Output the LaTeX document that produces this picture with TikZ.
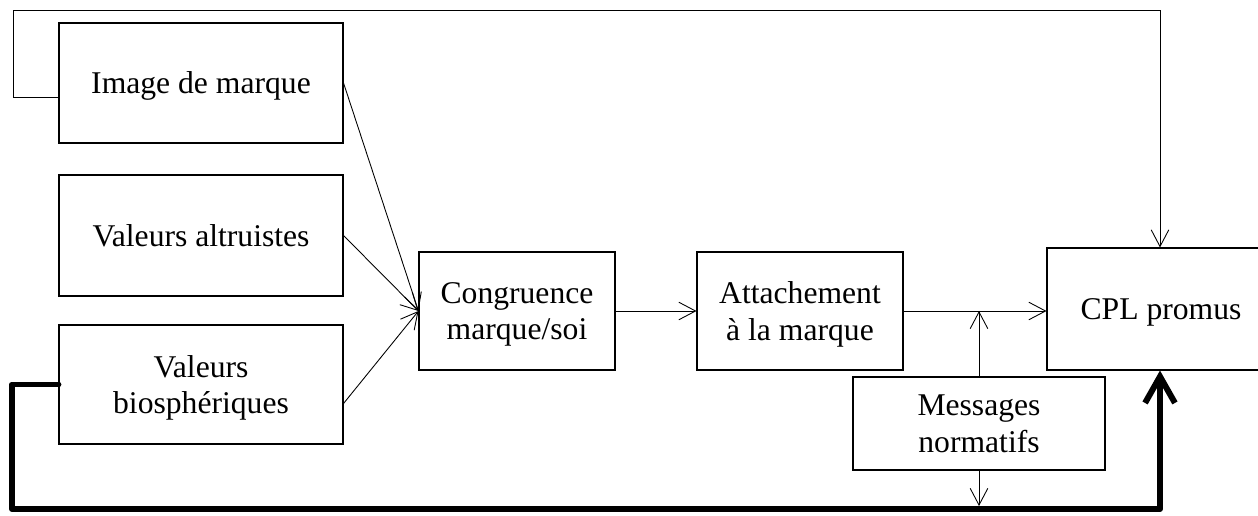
\documentclass[tikz,border=0pt]{standalone}
\usepackage{fontspec}
\setmainfont{Liberation Serif}
\usetikzlibrary{arrows.meta}

\tikzset{
    bloc/.style={draw, fill=white, line width=0.6pt, align=center, inner sep=0pt,
                 text depth=0pt, font=\fontsize{18}{21}\selectfont},
    deuxlignes/.style={text depth=-2.6pt},
    fleche/.style={line width=0.5pt, -{Straight Barb[length=9.5pt, width=10pt]}},
    retour/.style={line width=3.4pt, line cap=round, line join=round,
                   -{Straight Barb[length=15pt, width=17pt]}}
}

\begin{document}
\begin{tikzpicture}
                \useasboundingbox (0,0) rectangle (25.16,10.3);

                % Blocs de gauche:
                \node[bloc, minimum width=5.68cm, minimum height=2.4cm] (image) at (4.02,8.64) {Image de marque};
                \node[bloc, minimum width=5.68cm, minimum height=2.42cm] (altru) at (4.02,5.59) {Valeurs altruistes};
                \node[bloc, deuxlignes, minimum width=5.68cm, minimum height=2.38cm] (bio) at (4.02,2.61) {Valeurs\\biosphériques};

                % Blocs du milieu:
                \node[bloc, deuxlignes, minimum width=3.92cm, minimum height=2.36cm] (congru) at (10.34,4.08) {Congruence\\marque/soi};
                \node[bloc, deuxlignes, minimum width=4.12cm, minimum height=2.36cm] (attach) at (16.0,4.08) {Attachement\\à la marque};
                \node[bloc, deuxlignes, minimum width=5.04cm, minimum height=1.86cm] (messages) at (19.58,1.83) {Messages\\normatifs};

                % Bloc de droite:
                \node[bloc, minimum width=4.56cm, minimum height=2.44cm] (cpl) at (23.22,4.12) {CPL promus};

                % Coins des retours:
                \coordinate (hautG) at (0.26,10.1);
                \coordinate (hautD) at (23.2,10.1);
                \coordinate (basG) at (0.24,0.12);
                \coordinate (basD) at (23.2,0.12);
                \coordinate (jonction) at (messages.north |- attach.east);
                \coordinate (arrivee) at (messages.south |- basG);

                % Fleches vers la congruence:
                \draw[fleche] (image.east) -- (congru.west);
                \draw[fleche] (altru.east) -- (congru.west);
                \draw[fleche] ([yshift=-0.38cm]bio.east) -- (congru.west);

                % Chaine principale:
                \draw[fleche] (congru) -- (attach);
                \draw[fleche] (attach.east) -- (attach.east -| cpl.west);
                \draw[fleche] (messages.north) -- (jonction);

                % Retour du haut:
                \draw[fleche] ([yshift=-0.28cm]image.west) -| (hautG) -- (hautD) -- (hautD |- cpl.north);

                % Retour du bas (epais):
                \draw[retour] (bio.west) -| (basG) -- (basD) -- (basD |- cpl.south);
                \draw[fleche] (messages.south) -- ([yshift=1.7pt]arrivee);
            \end{tikzpicture}
\end{document}
